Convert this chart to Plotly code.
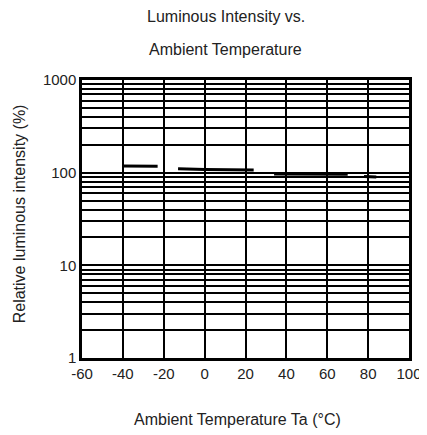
import plotly.graph_objects as go

# Data (gaps in the printed curve kept as None)
temp_c = [-40, -23, None, -13, 0, 24, None, 34, 70, None, 78, 84]
rel_intensity = [118, 117, None, 110, 108, 107, None, 97, 96, None, 91, 90]

x_ticks = [-60, -40, -20, 0, 20, 40, 60, 80, 100]
x_tick_labels = ["-60", "-40", "-20", "0", "20", "40", "60", "80", "100"]
y_ticks = [1, 10, 100, 1000]
y_tick_labels = ["1", "10", "100", "1000"]
minor_grid = [m * 10 ** k for k in range(3) for m in range(2, 10)]

title_line1 = "Luminous Intensity vs."
title_line2 = "Ambient Temperature"
x_title = "Ambient Temperature Ta (°C)"
y_title = "Relative luminous intensity (%)"

FONT = "Liberation Sans, Arial, sans-serif"

fig = go.Figure()
fig.add_trace(go.Scatter(
    x=temp_c, y=rel_intensity, mode="lines",
    line=dict(color="black", width=3),
    connectgaps=False, showlegend=False, hoverinfo="skip",
))

fig.update_layout(
    width=419, height=427,
    margin=dict(l=74, r=18, t=72, b=77, autoexpand=False),
    paper_bgcolor="white", plot_bgcolor="white",
    font=dict(family=FONT, color="#222", size=14),
    showlegend=False,
    xaxis=dict(
        range=[-60, 100], tickvals=x_ticks, ticktext=x_tick_labels,
        showgrid=True, gridcolor="black", gridwidth=2,
        showline=True, linecolor="black", linewidth=2.5, mirror=True,
        ticks="", zeroline=False,
        tickfont=dict(size=15, family=FONT, color="#222"),
    ),
    yaxis=dict(
        type="log", range=[0, 3],
        tickvals=y_ticks, ticktext=y_tick_labels,
        showgrid=True, gridcolor="black", gridwidth=2,
        showline=True, linecolor="black", linewidth=2.5, mirror=True,
        ticks="", zeroline=False,
        minor=dict(tickvals=minor_grid, showgrid=True, gridcolor="black", gridwidth=1.5, ticks=""),
        tickfont=dict(size=15, family=FONT, color="#222"),
    ),
    annotations=[
        dict(text=title_line1, xref="paper", yref="paper", x=0.44, y=1.227,
             xanchor="center", yanchor="middle", showarrow=False,
             font=dict(size=16, family=FONT, color="#222")),
        dict(text=title_line2, xref="paper", yref="paper", x=0.44, y=1.108,
             xanchor="center", yanchor="middle", showarrow=False,
             font=dict(size=16, family=FONT, color="#222")),
        dict(text=x_title, xref="paper", yref="paper", x=0.477, y=-0.223,
             xanchor="center", yanchor="middle", showarrow=False,
             font=dict(size=16, family=FONT, color="#222")),
        dict(text=y_title, xref="paper", yref="paper", x=-0.19, y=0.52,
             xanchor="center", yanchor="middle", showarrow=False, textangle=-90,
             font=dict(size=16, family=FONT, color="#222")),
    ],
)

fig.write_html("out.html")
